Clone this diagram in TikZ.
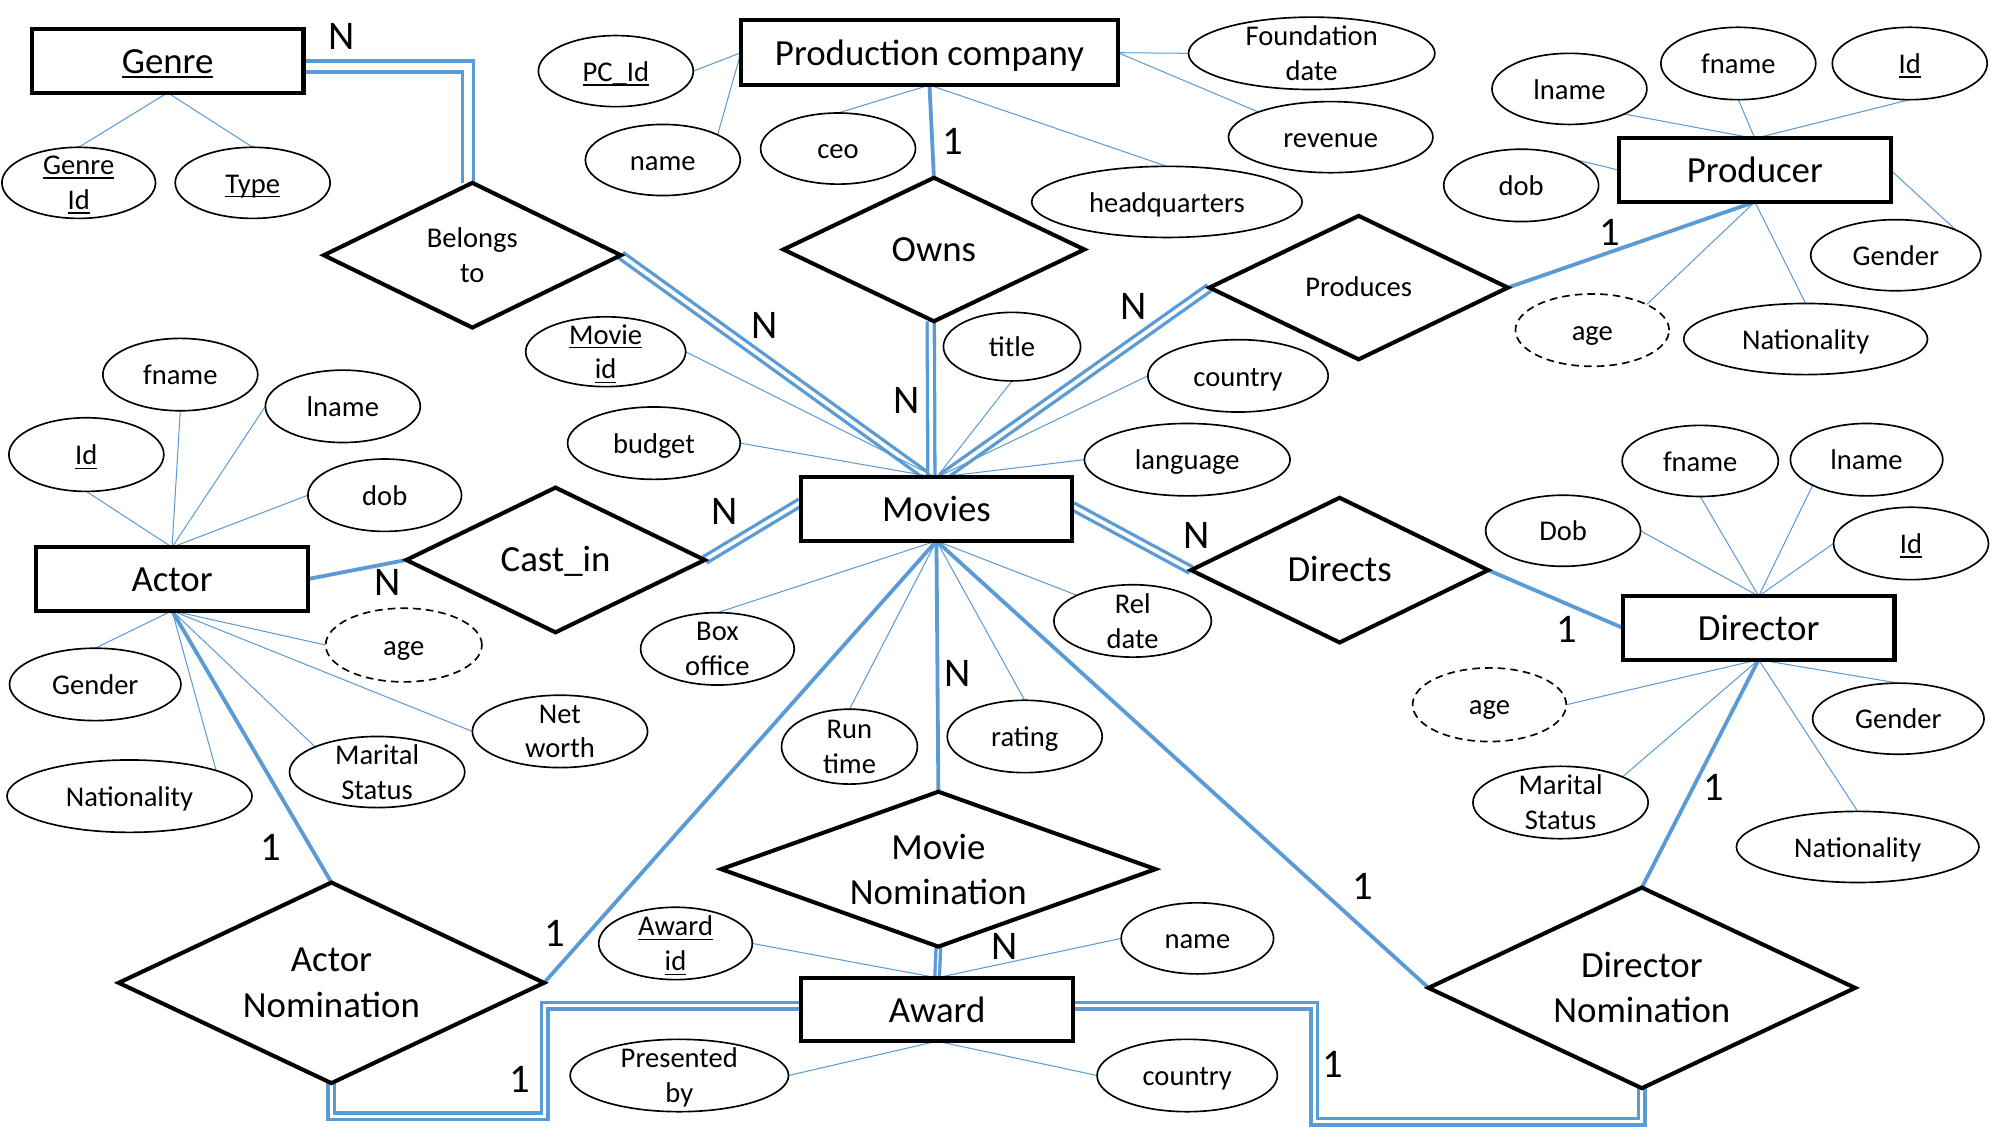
\documentclass[tikz,border=0pt]{standalone}
\usepackage{fontspec}
\setmainfont{Carlito}
\usetikzlibrary{shapes.geometric,backgrounds}
\definecolor{ebl}{RGB}{91,155,213}
\newsavebox\undlbox
\newcommand\undl[1]{\sbox\undlbox{#1}\rlap{\smash{\rule[-3.4pt]{\wd\undlbox}{1.2pt}}}\usebox\undlbox}
\tikzset{
  sz/.style 2 args={minimum width=#1pt, minimum height=#2pt},
  ent/.style={draw, rectangle, line width=3.2pt, fill=white, inner sep=0pt, outer sep=0pt,
    minimum width=214pt, minimum height=50pt, font=\fontsize{29}{35.5}\selectfont,
    text height=20pt, text depth=0pt},
  relb/.style={draw, diamond, line width=3.2pt, fill=white, inner sep=0pt, outer sep=0pt, shape aspect=2},
  relbig/.style={relb, font=\fontsize{29}{35.5}\selectfont, align=center},
  relbigone/.style={relb, font=\fontsize{29}{35.5}\selectfont, text height=18.6pt, text depth=0pt},
  relsmall/.style={relb, font=\fontsize{22.5}{27.5}\selectfont, align=center},
  relsmallone/.style={relb, font=\fontsize{22.5}{27.5}\selectfont, text height=14.5pt, text depth=0pt},
  attrbase/.style={draw, ellipse, line width=1.3pt, fill=white, inner xsep=0pt, inner ysep=0pt,
    outer sep=0pt, font=\fontsize{22.5}{27.5}\selectfont},
  attr/.style={attrbase, text height=16pt, text depth=0pt},
  attrtwo/.style={attrbase, align=center, inner ysep=-9pt},
  deriv/.style={dash pattern=on 6pt off 4pt},
  aline/.style={draw=ebl, line width=0.8pt},
  rline/.style={draw=ebl, line width=3pt},
  dblg/.style={draw=ebl, line width=2.8pt, double=white, double distance=6pt},
  dblm/.style={draw=ebl, line width=2.6pt, double=white, double distance=3pt},
  dbln/.style={draw=ebl, line width=2.6pt, double=white, double distance=1pt},
  dbla/.style={draw=ebl, line width=2.8pt, double=white, double distance=2.2pt},
  card/.style={font=\fontsize{32}{36}\selectfont, inner sep=0pt},
}
\begin{document}
\begin{tikzpicture}[x=1pt,y=-1pt]
\useasboundingbox (0,0) rectangle (1568,889);
% entities
\node[ent] (genre) at (132,48) {\undl{Genre}};
\node[ent, minimum width=297pt, minimum height=51pt] (pc) at (732,41.5) {Production company};
\node[ent] (producer) at (1382,134) {Producer};
\node[ent] (actor) at (135.5,456) {Actor};
\node[ent] (movies) at (737.5,401) {Movies};
\node[ent] (director) at (1385,494.5) {Director};
\node[ent] (award) at (738,795) {Award};
% relationships
\node[relsmall, sz={234}{114}] (belongs) at (372,201) {Belongs\\to};
\node[relbigone, sz={237}{113}] (owns) at (735.5,196.5) {Owns};
\node[relsmallone, sz={235}{113}] (produces) at (1070,226.5) {Produces};
\node[relbigone, sz={235}{114}] (castin) at (437.5,441) {Cast\_in};
\node[relbigone, sz={234}{114}] (directs) at (1055,449) {Directs};
\node[relbig, shape aspect=2.8, sz={342}{122}] (movnom) at (739,684.5) {Movie\\Nomination};
\node[relbig, shape aspect=2.1, sz={335}{158}] (actnom) at (261,774) {Actor\\Nomination};
\node[relbig, shape aspect=2.1, sz={336}{158}] (dirnom) at (1293,778) {Director\\Nomination};
% attributes: Genre
\node[attrtwo, sz={121}{56}] (gid) at (62,144) {\undl{Genre}\\\undl{Id}};
\node[attr, sz={122}{56}] (gtype) at (199,144) {\undl{Type}};
% Production company
\node[attr, sz={122}{56}] (pcid) at (485,56) {\undl{PC\_Id}};
\node[attr, sz={122}{56}] (pcname) at (522,126) {name};
\node[attr, sz={122}{56}] (ceo) at (660,117) {ceo};
\node[attr, sz={213}{56}] (hq) at (919,159) {headquarters};
\node[attrtwo, sz={194}{57}] (found) at (1033,42) {Foundation\\date};
\node[attr, sz={161}{56}] (revenue) at (1048,108) {revenue};
% Producer
\node[attr, sz={122}{56}] (plname) at (1236,70) {lname};
\node[attr, sz={122}{57}] (pfname) at (1369,50) {fname};
\node[attr, sz={122}{57}] (pid) at (1504,50) {\undl{Id}};
\node[attr, sz={122}{57}] (pdob) at (1198,146) {dob};
\node[attr, sz={134}{56}] (pgender) at (1493,201) {Gender};
\node[attr, deriv, sz={121}{57}] (page) at (1254,260) {age};
\node[attr, sz={192}{56}] (pnat) at (1422,267) {Nationality};
% Actor
\node[attr, sz={122}{57}] (afname) at (142,295) {fname};
\node[attr, sz={122}{57}] (alname) at (270,320) {lname};
\node[attr, sz={122}{58}] (aid) at (68,358) {\undl{Id}};
\node[attr, sz={121}{57}] (adob) at (303,390) {dob};
\node[attr, deriv, sz={123}{58}] (aage) at (318,508) {age};
\node[attr, sz={135}{57}] (agender) at (75,539) {Gender};
\node[attrtwo, sz={138}{57}] (anet) at (441,576) {Net\\worth};
\node[attrtwo, sz={138}{56}] (amarital) at (297,608) {Marital\\Status};
\node[attr, sz={193}{57}] (anat) at (102,627) {Nationality};
% Movies
\node[attrtwo, sz={126}{55}] (mid) at (477,277) {\undl{Movie}\\\undl{id}};
\node[attr, sz={136}{57}] (budget) at (515,349) {budget};
\node[attr, sz={108}{54}] (title) at (797,273) {title};
\node[attr, sz={142}{57}] (mcountry) at (975,296) {country};
\node[attr, sz={162}{57}] (language) at (935,362) {language};
\node[attrtwo, sz={121}{57}] (boxoff) at (565,511) {Box\\office};
\node[attrtwo, sz={124}{57}] (reldate) at (892,489) {Rel\\date};
\node[attrtwo, sz={107}{59}] (runtime) at (669,588) {Run\\time};
\node[attr, sz={122}{57}] (rating) at (807,580) {rating};
% Director
\node[attr, sz={123}{56}] (dfname) at (1339,363) {fname};
\node[attr, sz={120}{57}] (dlname) at (1470,362) {lname};
\node[attr, sz={122}{57}] (did) at (1505,428) {\undl{Id}};
\node[attr, sz={122}{56}] (ddob) at (1231,418) {Dob};
\node[attr, deriv, sz={121}{58}] (dage) at (1173,555) {age};
\node[attr, sz={135}{56}] (dgender) at (1495,566) {Gender};
\node[attrtwo, sz={138}{57}] (dmarital) at (1229,632) {Marital\\Status};
\node[attr, sz={191}{56}] (dnat) at (1463,667) {Nationality};
% Award
\node[attrtwo, sz={121}{57}] (awid) at (532,743) {\undl{Award}\\\undl{id}};
\node[attr, sz={120}{56}] (awname) at (943,739) {name};
\node[attrtwo, sz={172}{57}] (presby) at (535,847) {Presented\\\smash{by}};
\node[attr, sz={142}{57}] (awcountry) at (935,847) {country};
% cardinalities
\node[card] (c1) at (269,29) {N};
\node[card] (c2) at (602,256) {N};
\node[card] (c3) at (750,111) {1};
\node[card] (c4) at (714,315) {N};
\node[card] (c5) at (893,241) {N};
\node[card] (c6) at (1268,183) {1};
\node[card] (c7) at (571,403) {N};
\node[card] (c8) at (305,459) {N};
\node[card] (c9) at (942,422) {N};
\node[card] (c10) at (1234,496) {1};
\node[card] (c11) at (754,530) {N};
\node[card] (c12) at (213,667) {1};
\node[card] (c13) at (437,735) {1};
\node[card] (c14) at (1073,698) {1};
\node[card] (c15) at (1350,620) {1};
\node[card] (c16) at (791,745) {N};
\node[card] (c17) at (409,850) {1};
\node[card] (c18) at (1050,838) {1};
\coordinate (ka) at (429,879);
\coordinate (kd) at (1035,883.5);
\begin{pgfonlayer}{background}
\fill[white] (0,0) rectangle (1568,889);
% double connectors
\draw[dblg] ([yshift=-4.5pt]genre.east) -| ([xshift=-3.5pt]belongs.north);
\draw[dblm] (belongs.east) -- ([xshift=-6pt]movies.north);
\draw[dblm] ([xshift=-2.5pt]owns.south) -- ([xshift=-4pt]movies.north);
\draw[dblm] (produces.west) -- ([xshift=4pt]movies.north);
\draw[dblm] (castin.east) -- ([yshift=5.5pt]movies.west);
\draw[dblm] ([yshift=2.5pt]movies.east) -- (directs.west);
\draw[dbln] (movnom.south) -- (award.north);
\draw[dbla] ([yshift=3pt]award.west) -| (ka) -| (actnom.south);
\draw[dbla] ([yshift=3pt]award.east) -| (kd) -| (dirnom.south);
% single thick connectors
\draw[rline] (pc.south) -- (owns.north);
\draw[rline] (producer.south) -- (produces.east);
\draw[rline] (actor.east) -- (castin.west);
\draw[rline] (directs.east) -- (director.west);
\draw[rline] (director.south) -- (dirnom.north);
\draw[rline] (actor.south) -- (actnom.north);
\draw[rline] (movies.south) -- (movnom.north);
\draw[rline] (movies.south) -- (actnom.east);
\draw[rline] (movies.south) -- (dirnom.west);
% attribute lines
\draw[aline] (genre.south) -- (gid.north);
\draw[aline] (genre.south) -- (gtype.north);
\draw[aline] (pc.west) -- (pcid.east);
\draw[aline] (pc.west) -- (pcname.north east);
\draw[aline] (pc.south) -- (ceo.north);
\draw[aline] (pc.south) -- (hq.north);
\draw[aline] (pc.east) -- (found.west);
\draw[aline] (pc.east) -- (revenue.north west);
\draw[aline] (producer.north) -- (plname.south east);
\draw[aline] (producer.north) -- (pfname.south);
\draw[aline] (producer.north) -- (pid.south);
\draw[aline] (producer.west) -- (pdob.north east);
\draw[aline] (producer.east) -- (pgender.north east);
\draw[aline] (producer.south) -- (page.north east);
\draw[aline] (producer.south) -- (pnat.north);
\draw[aline] (actor.north) -- (aid.south);
\draw[aline] (actor.north) -- (afname.south);
\draw[aline] (actor.north) -- (alname.west);
\draw[aline] (actor.north) -- (adob.west);
\draw[aline] (actor.south) -- (agender.north);
\draw[aline] (actor.south) -- (anat.north east);
\draw[aline] (actor.south) -- (aage.west);
\draw[aline] (actor.south) -- (anet.west);
\draw[aline] (actor.south) -- (amarital.north west);
\draw[aline] (movies.north) -- (mid.east);
\draw[aline] (movies.north) -- (budget.east);
\draw[aline] (movies.north) -- (title.south);
\draw[aline] (movies.north) -- (mcountry.west);
\draw[aline] (movies.north) -- (language.west);
\draw[aline] (movies.south) -- (boxoff.north);
\draw[aline] (movies.south) -- (runtime.north);
\draw[aline] (movies.south) -- (rating.north);
\draw[aline] (movies.south) -- (reldate.north west);
\draw[aline] (director.north) -- (ddob.east);
\draw[aline] (director.north) -- (dfname.south);
\draw[aline] (director.north) -- (dlname.south west);
\draw[aline] (director.north) -- (did.west);
\draw[aline] (director.south) -- (dage.east);
\draw[aline] (director.south) -- (dgender.north);
\draw[aline] (director.south) -- (dmarital.north east);
\draw[aline] (director.south) -- (dnat.north);
\draw[aline] (award.north) -- (awid.east);
\draw[aline] (award.north) -- (awname.west);
\draw[aline] (award.south) -- (presby.east);
\draw[aline] (award.south) -- (awcountry.west);
\end{pgfonlayer}
\end{tikzpicture}
\end{document}
